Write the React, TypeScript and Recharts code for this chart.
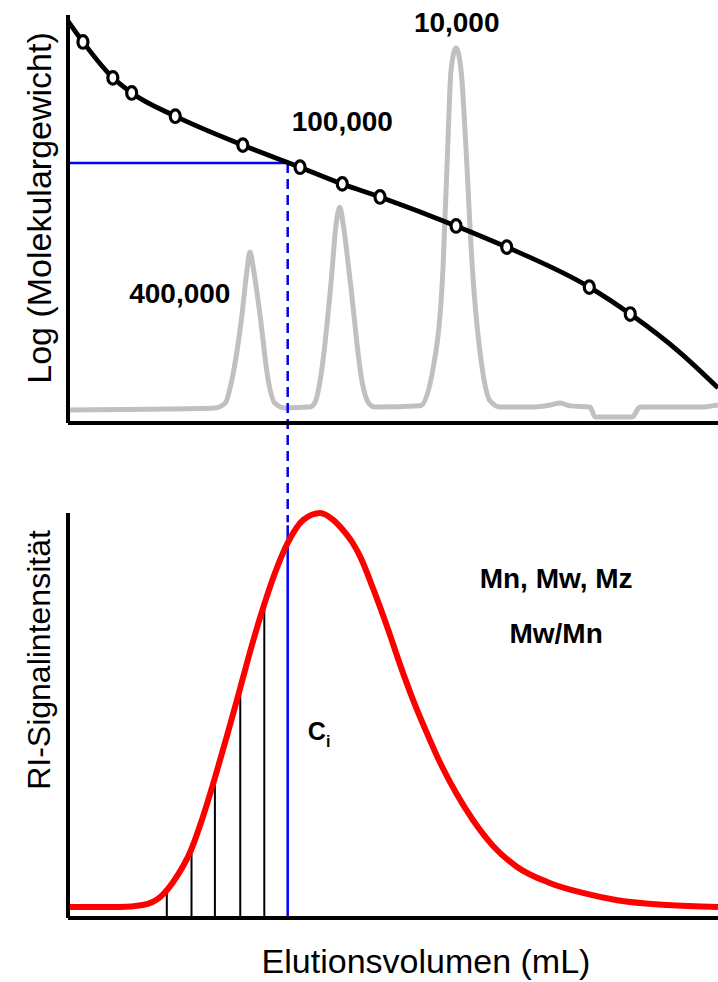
import React from 'react';
import {
  ComposedChart,
  Line,
  Scatter,
  XAxis,
  YAxis,
  ReferenceLine,
  ReferenceDot,
  Label,
} from 'recharts';

// ---- Top panel: calibration curve (log M vs elution volume) ----
const calibX = [0, 2.3, 6.9, 9.8, 16.5, 26.9, 35.7, 42.2, 48.0, 59.7, 67.5, 80.2, 86.5, 94.2, 100];
const calibY = [98.5, 93.4, 84.6, 80.9, 75.2, 68.1, 62.7, 58.6, 55.4, 48.3, 43.1, 33.3, 26.7, 17.2, 8.6];

const standardX = [2.3, 6.9, 9.8, 16.5, 26.9, 35.7, 42.2, 48.0, 59.7, 67.5, 80.2, 86.5];
const standardY = [93.4, 84.6, 80.9, 75.2, 68.1, 62.7, 58.6, 55.4, 48.3, 43.1, 33.3, 26.7];

// grey chromatogram of the standards
const traceX = [
  0, 12.6, 22.6, 24.2, 25.2, 26.8, 27.5, 28.0, 28.6, 29.5, 30.8, 31.8, 33.4,
  37.2, 38.0, 38.8, 40.5, 41.2, 41.8, 42.4, 43.4, 45.2, 46.2, 47.2,
  54.2, 56.2, 57.7, 58.5, 58.9, 59.7, 60.5, 61.1, 62.2, 63.7, 64.9, 66.5,
  71.1, 74.2, 75.7, 77.2, 80.3, 81.1, 86.8, 88.0, 97.2, 99.1, 100,
];
const traceY = [
  3.2, 3.4, 3.7, 4.9, 10.5, 27.0, 37.0, 41.9, 37.0, 27.0, 10.5, 4.9, 3.7,
  3.9, 5.0, 10.5, 35.0, 48.0, 52.9, 48.0, 35.0, 10.5, 5.0, 3.9,
  4.2, 13.7, 38.2, 71.1, 86.0, 91.9, 86.0, 71.1, 38.2, 13.7, 5.5, 3.9,
  3.9, 4.4, 4.9, 4.2, 3.9, 1.5, 1.5, 3.9, 3.9, 4.2, 4.4,
];

const peakLabels = ['400,000', '100,000', '10,000'];
const peakLabelX = [17.2, 42.2, 59.8];
const peakLabelY = [31.9, 74.0, 98.3];

// selected slice
const selX = 33.8;
const selLogM = 63.7;

// ---- Bottom panel: RI signal ----
const riX = [
  0, 8, 11.5, 14.2, 16.8, 18.8, 20.8, 22.6, 24.5, 26.5, 28.3, 30.2, 32.2, 33.8, 36.2, 38.8,
  40.8, 42.3, 43.8, 44.9, 46.9, 49.1, 51.1, 53.1, 55.2, 57.2, 59.8, 62.3, 65.4, 69.1, 74.2, 79.2, 84.5, 92.2, 100,
];
const riY = [
  2.7, 2.7, 3.2, 5.2, 10.4, 16.3, 25.2, 34.6, 45.2, 56.8, 67.4, 77.5, 86.7, 92.6, 98.3, 100,
  98.3, 95.8, 92.6, 89.4, 81.5, 71.9, 62.5, 53.8, 45.7, 38.5, 30.6, 24.2, 17.8, 12.6, 8.6, 6.2, 4.4, 3.2, 2.7,
];

const sliceX = [15.2, 19.0, 22.6, 26.5, 30.2];
const sliceY = [6.5, 16.8, 34.6, 56.8, 77.5];
const selSignal = 97;

const resultLines = ['Mn, Mw, Mz', 'Mw/Mn'];
const resultX = [75.1, 75.1];
const resultY = [84.0, 70.4];

const zip = (xs: number[], ys: number[]) => xs.map((x, i) => ({ x, y: ys[i] }));

const calibData = zip(calibX, calibY);
const standardData = zip(standardX, standardY);
const traceData = zip(traceX, traceY);
const riData = zip(riX, riY);

const axisStyle = { stroke: '#000', strokeWidth: 4 };

const StandardMarker = (props: any) => (
  <ellipse cx={props.cx} cy={props.cy} rx={5} ry={6.3} fill="#fff" stroke="#000" strokeWidth={3.2} />
);

const logLabel = (props: any) => {
  const vb = props.viewBox || { x: 8, y: 15, width: 60, height: 408 };
  const cx = vb.x + 31;
  const cy = vb.y + vb.height / 2 - 11;
  return (
    <text
      x={cx}
      y={cy}
      transform={`rotate(-90 ${cx} ${cy})`}
      textAnchor="middle"
      dominantBaseline="central"
      fontSize={34}
      fill="#000"
    >
      Log (Molekulargewicht)
    </text>
  );
};

const riLabel = (props: any) => {
  const vb = props.viewBox || { x: 8, y: 513, width: 60, height: 405 };
  const cx = vb.x + 31;
  const cy = vb.y + 147;
  return (
    <text
      x={cx}
      y={cy}
      transform={`rotate(-90 ${cx} ${cy})`}
      textAnchor="middle"
      dominantBaseline="central"
      fontSize={32}
      fill="#000"
    >
      RI-Signalintensität
    </text>
  );
};

const xLabel = (props: any) => {
  const vb = props.viewBox || { x: 68, y: 918, width: 650, height: 30 };
  return (
    <text x={vb.x + 358} y={vb.y + 55} textAnchor="middle" fontSize={34} fill="#000">
      Elutionsvolumen (mL)
    </text>
  );
};

const ciLabel = (props: any) => {
  const vb = props.viewBox || { x: 0, y: 0 };
  return (
    <text x={vb.x} y={vb.y} fontSize={25} fontWeight="bold" fill="#000">
      C
      <tspan fontSize={16} dy={7}>
        i
      </tspan>
    </text>
  );
};

export default function App() {
  return (
    <div
      style={{
        position: 'absolute',
        left: 0,
        top: 0,
        width: 718,
        height: 982,
        background: '#fff',
        fontFamily: "'Liberation Sans', Arial, sans-serif",
      }}
    >
      <div style={{ position: 'absolute', left: 0, top: 0 }}>
        <ComposedChart width={718} height={530} margin={{ top: 15, right: 0, bottom: 77, left: 8 }}>
          <XAxis
            type="number"
            dataKey="x"
            domain={[0, 100]}
            axisLine={axisStyle}
            tick={false}
            tickLine={false}
            height={30}
          />
          <YAxis
            type="number"
            dataKey="y"
            domain={[0, 100]}
            axisLine={axisStyle}
            tick={false}
            tickLine={false}
            width={60}
            label={logLabel}
          />
          <Line
            data={traceData}
            dataKey="y"
            type="monotone"
            stroke="#c0c0c0"
            strokeWidth={5}
            dot={false}
            isAnimationActive={false}
          />
          <ReferenceLine
            segment={[
              { x: 0, y: selLogM },
              { x: selX, y: selLogM },
            ]}
            stroke="#0000ff"
            strokeWidth={2.5}
            ifOverflow="visible"
          />
          <ReferenceLine
            segment={[
              { x: selX, y: selLogM },
              { x: selX, y: -24.3 },
            ]}
            stroke="#0000ff"
            strokeWidth={2.5}
            strokeDasharray="10 6"
            ifOverflow="visible"
          />
          <Line
            data={calibData}
            dataKey="y"
            type="monotone"
            stroke="#000"
            strokeWidth={4.8}
            dot={false}
            isAnimationActive={false}
          />
          <Scatter data={standardData} dataKey="y" shape={StandardMarker} isAnimationActive={false} />
          {peakLabels.map((t, i) => (
            <ReferenceDot key={t} x={peakLabelX[i]} y={peakLabelY[i]} r={1} fill="none" stroke="none">
              <Label value={t} position="center" fontSize={28} fontWeight="bold" fill="#000" />
            </ReferenceDot>
          ))}
        </ComposedChart>
      </div>
      <div style={{ position: 'absolute', left: 0, top: 490 }}>
        <ComposedChart width={718} height={492} margin={{ top: 23, right: 0, bottom: 34, left: 8 }}>
          <XAxis
            type="number"
            dataKey="x"
            domain={[0, 100]}
            axisLine={axisStyle}
            tick={false}
            tickLine={false}
            height={30}
            label={xLabel}
          />
          <YAxis
            type="number"
            dataKey="y"
            domain={[0, 100]}
            axisLine={axisStyle}
            tick={false}
            tickLine={false}
            width={60}
            label={riLabel}
          />
          {sliceX.map((sx, i) => (
            <ReferenceLine
              key={`s${i}`}
              segment={[
                { x: sx, y: 0 },
                { x: sx, y: sliceY[i] },
              ]}
              stroke="#000"
              strokeWidth={2}
              ifOverflow="visible"
            />
          ))}
          <ReferenceLine
            segment={[
              { x: selX, y: 0 },
              { x: selX, y: selSignal },
            ]}
            stroke="#0000ff"
            strokeWidth={2.5}
            ifOverflow="visible"
          />
          <Line
            data={riData}
            dataKey="y"
            type="monotone"
            stroke="#ff0000"
            strokeWidth={6}
            dot={false}
            isAnimationActive={false}
          />
          {resultLines.map((t, i) => (
            <ReferenceDot key={t} x={resultX[i]} y={resultY[i]} r={1} fill="none" stroke="none">
              <Label value={t} position="center" fontSize={28} fontWeight="bold" fill="#000" />
            </ReferenceDot>
          ))}
          <ReferenceDot x={36.9} y={44.0} r={0.01} fill="none" stroke="none" label={ciLabel} />
        </ComposedChart>
      </div>
    </div>
  );
}
